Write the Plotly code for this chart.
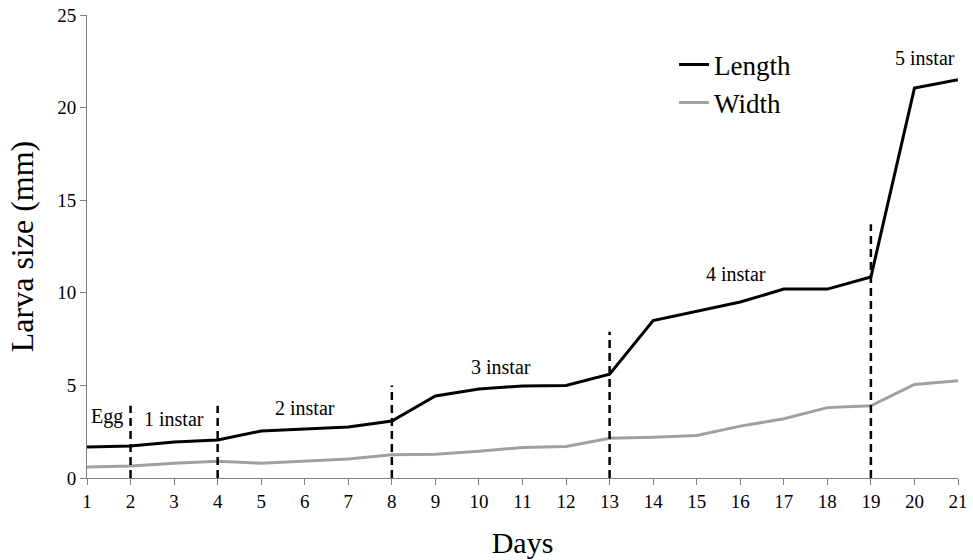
import plotly.graph_objects as go

days = list(range(1, 22))
length = [1.67, 1.73, 1.94, 2.05, 2.54, 2.65, 2.75, 3.08, 4.43, 4.8, 4.97, 5.0, 5.6,
          8.5, 9.0, 9.5, 10.2, 10.2, 10.85, 21.05, 21.5]
width = [0.6, 0.65, 0.8, 0.9, 0.8, 0.9, 1.03, 1.25, 1.28, 1.45, 1.65, 1.7, 2.15,
         2.2, 2.3, 2.8, 3.2, 3.8, 3.9, 5.05, 5.25]

stage_days = [2, 4, 8, 13, 19]
stage_tops = [3.9, 3.9, 5.0, 7.9, 13.7]

stage_labels = ["Egg", "1 instar", "2 instar", "3 instar", "4 instar", "5 instar"]
label_x = [1.45, 3.0, 6.0, 10.5, 15.9, 20.25]
label_y = [3.3, 3.2, 3.8, 6.0, 11.0, 22.7]

FONT = "Liberation Serif"

fig = go.Figure()
fig.add_trace(go.Scatter(x=days, y=length, mode="lines", name="Length",
                         line=dict(color="black", width=3)))
fig.add_trace(go.Scatter(x=days, y=width, mode="lines", name="Width",
                         line=dict(color="#a0a0a0", width=3)))

for d, t in zip(stage_days, stage_tops):
    fig.add_shape(type="line", x0=d, x1=d, y0=0, y1=t, xref="x", yref="y",
                  line=dict(color="black", width=2.5, dash="8px,5px"))

for txt, x, y in zip(stage_labels, label_x, label_y):
    fig.add_annotation(x=x, y=y, text=txt, showarrow=False,
                       font=dict(family=FONT, size=20, color="black"))

fig.update_layout(
    width=973, height=560,
    margin=dict(l=87, r=15, t=15, b=82, autoexpand=False),
    plot_bgcolor="white", paper_bgcolor="white",
    font=dict(family=FONT, color="black"),
    showlegend=True,
    legend=dict(x=0.674, y=0.945, xanchor="left", yanchor="top",
                font=dict(family=FONT, size=27, color="black"),
                bgcolor="rgba(0,0,0,0)", itemwidth=30, tracegroupgap=0),
    xaxis=dict(range=[1, 21], tickmode="array", tickvals=days,
               ticktext=[str(d) for d in days], automargin=False,
               showgrid=False, zeroline=False, showline=True,
               linecolor="#808080", linewidth=1, ticks="outside",
               ticklen=6, tickcolor="#808080",
               tickfont=dict(family=FONT, size=19, color="black"),
               title=dict(text="Days", font=dict(family=FONT, size=30, color="black"),
                          standoff=21)),
    yaxis=dict(range=[0, 25], tickvals=[0, 5, 10, 15, 20, 25], automargin=False,
               showgrid=False, zeroline=False, showline=True,
               linecolor="#808080", linewidth=1, ticks="outside",
               ticklen=6, tickcolor="#808080",
               tickfont=dict(family=FONT, size=19, color="black"),
               title=dict(text="Larva size (mm)", font=dict(family=FONT, size=32, color="black"),
                          standoff=14)),
)

fig.write_html("out.html", config={"displayModeBar": False},
               post_script="document.body.style.margin='0';document.body.style.overflow='hidden';")
